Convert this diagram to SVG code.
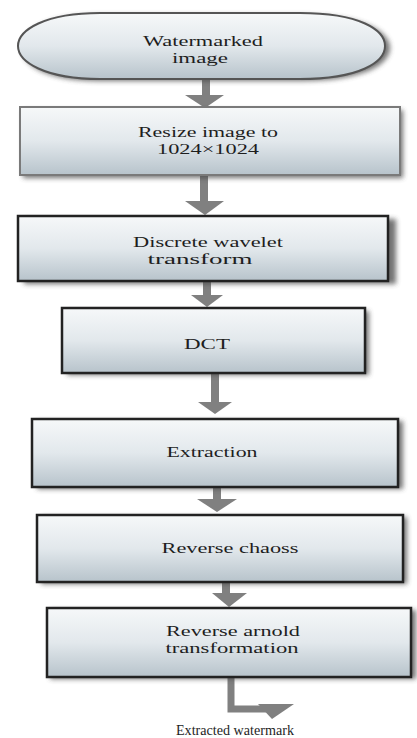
<svg xmlns="http://www.w3.org/2000/svg" width="417" height="738" viewBox="0 0 417 738">
<defs>
<linearGradient id="g" x1="0" y1="0" x2="0" y2="1">
<stop offset="0" stop-color="#f6f8f9"/>
<stop offset="0.5" stop-color="#e2e8ec"/>
<stop offset="1" stop-color="#b7c3cb"/>
</linearGradient>
<filter id="sh" x="-10%" y="-20%" width="120%" height="140%">
<feGaussianBlur stdDeviation="2.5"/>
</filter>
</defs>
<style>
.box{fill:url(#g);stroke:#222;stroke-width:2.5}
.box2{fill:url(#g);stroke:#7a7a7a;stroke-width:2}
.shd{fill:#444;filter:url(#sh);opacity:0.75}
.t{font-family:"Liberation Serif","Times New Roman",serif;font-size:15px;fill:#1e1e1e;text-anchor:middle}
.s{font-size:15px}
.c{fill:#808080}
</style>

<g id="connectors">
<rect class="c" x="202" y="80" width="8" height="16"/>
<polygon class="c" points="185,95 224,95 205,108"/>
<rect class="c" x="200" y="175" width="8" height="27"/>
<polygon class="c" points="185,201 224,201 205,215"/>
<rect class="c" x="203" y="282" width="8" height="14"/>
<polygon class="c" points="191,295 223,295 207,307"/>
<rect class="c" x="211" y="373" width="8" height="30"/>
<polygon class="c" points="198,402 232,402 215,414"/>
<rect class="c" x="213" y="487" width="8" height="13"/>
<polygon class="c" points="197,499 237,499 217,512"/>
<rect class="c" x="222" y="582" width="8" height="12"/>
<polygon class="c" points="212,593 247,593 229,607"/>
<path d="M231,677 V709 H266" fill="none" stroke="#808080" stroke-width="7"/>
<polygon class="c" points="258,704 294,704 272,719"/>
</g>

<g id="n1">
<path class="shd" d="M100,15 H300 C362,15 390,31 390,48 C390,65 362,81 300,81 H100 C46,81 22,65 22,48 C22,31 46,15 100,15 Z"/>
<path d="M100,13 H300 C360,13 385,30 385,46 C385,62 360,79 300,79 H100 C45,79 18,62 18,46 C18,30 45,13 100,13 Z" fill="url(#g)" stroke="#555" stroke-width="2"/>
<text class="t" x="203" y="46" textLength="120" lengthAdjust="spacingAndGlyphs">Watermarked</text>
<text class="t" x="200" y="63" textLength="56" lengthAdjust="spacingAndGlyphs">image</text>
</g>

<g id="n2">
<rect class="shd" x="23" y="110" width="380" height="68" opacity="0.35"/>
<rect class="box2" x="20" y="107" width="380" height="68"/>
<text class="t" x="208" y="137" textLength="140" lengthAdjust="spacingAndGlyphs">Resize image to</text>
<text class="t" x="208" y="154" textLength="102" lengthAdjust="spacingAndGlyphs">1024×1024</text>
</g>

<g id="n3">
<rect class="shd" x="24" y="219" width="372" height="65"/>
<rect class="box" x="18" y="216" width="370" height="65"/>
<text class="t" x="208" y="247" textLength="150" lengthAdjust="spacingAndGlyphs">Discrete wavelet</text>
<text class="t" x="200" y="264" textLength="105" lengthAdjust="spacingAndGlyphs">transform</text>
</g>

<g id="n4">
<rect class="shd" x="67" y="311" width="302" height="64"/>
<rect class="box" x="62" y="308" width="303" height="65"/>
<text class="t" x="207" y="349" textLength="46" lengthAdjust="spacingAndGlyphs">DCT</text>
</g>

<g id="n5">
<rect class="shd" x="37" y="421" width="366" height="68"/>
<rect class="box" x="32" y="419" width="366" height="68"/>
<text class="t" x="212" y="457" textLength="91" lengthAdjust="spacingAndGlyphs">Extraction</text>
</g>

<g id="n6">
<rect class="shd" x="41" y="517" width="366" height="67"/>
<rect class="box" x="37" y="515" width="366" height="67"/>
<text class="t" x="230" y="553" textLength="137" lengthAdjust="spacingAndGlyphs">Reverse chaoss</text>
</g>

<g id="n7">
<rect class="shd" x="50" y="610" width="366" height="69"/>
<rect class="box" x="47" y="608" width="364" height="69"/>
<text class="t" x="233" y="636" textLength="134" lengthAdjust="spacingAndGlyphs">Reverse arnold</text>
<text class="t" x="232" y="653" textLength="133" lengthAdjust="spacingAndGlyphs">transformation</text>
</g>

<g id="n8">
<text class="t s" x="235" y="735" textLength="118" lengthAdjust="spacingAndGlyphs">Extracted watermark</text>
</g>
</svg>
